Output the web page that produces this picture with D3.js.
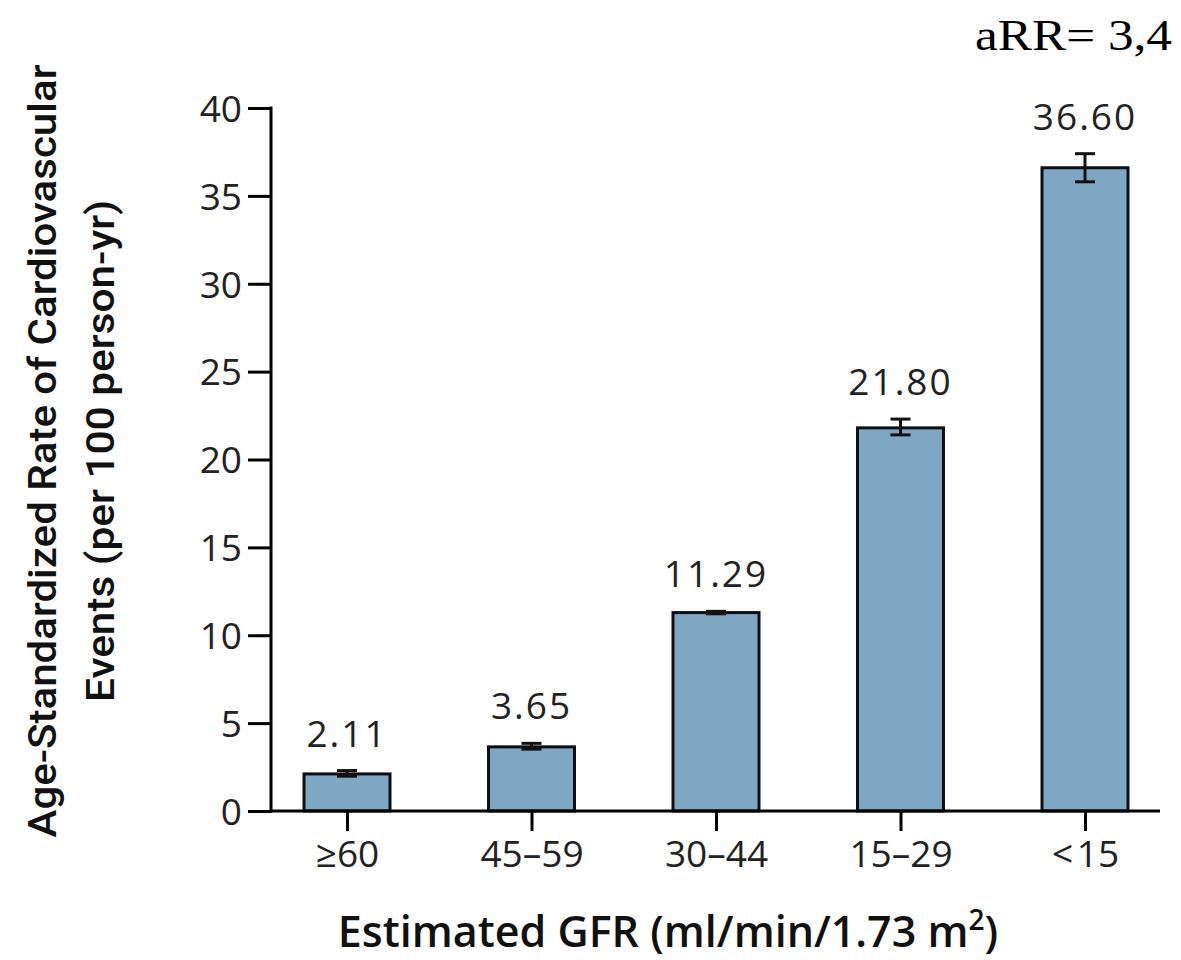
<!DOCTYPE html>
<html>
<head>
<meta charset="utf-8">
<script src="https://cdn.jsdelivr.net/npm/d3@7"></script>
<style>
  html, body { margin: 0; padding: 0; background: #fff; }
  svg { display: block; }
</style>
</head>
<body>
<div class="graph"></div>
<script>
// data
var categories = ["\u226560", "45\u201359", "30\u201344", "15\u201329", "<\u200a15"];
var rates = [2.11, 3.65, 11.29, 21.80, 36.60];
var errLow = [1.98, 3.52, 11.22, 21.40, 35.80];
var errHigh = [2.30, 3.85, 11.36, 22.30, 37.40];
var yTicks = [0, 5, 10, 15, 20, 25, 30, 35, 40];

var width = 1181, height = 960;
var svg = d3.select(".graph").append("svg")
    .attr("width", width)
    .attr("height", height);

var plot = { left: 271, right: 1160, top: 108, bottom: 811 };

// scales
var x = d3.scalePoint().domain(categories).range([347, 1085]);
var y = d3.scaleLinear().domain([0, 40]).range([plot.bottom, plot.top]);
var barW = 86;

var tickFont = "'Open Sans', 'DejaVu Sans', sans-serif";

// bars
svg.append("g").selectAll("rect")
  .data(rates)
  .enter().append("rect")
    .attr("x", function (d, i) { return x(categories[i]) - barW / 2; })
    .attr("y", function (d) { return y(d); })
    .attr("width", barW)
    .attr("height", function (d) { return y(0) - y(d); })
    .attr("fill", "#7ea7c3")
    .attr("stroke", "#0b0f14")
    .attr("stroke-width", 3);

// error bars
var err = svg.append("g").attr("stroke", "#111").attr("stroke-width", 3);
rates.forEach(function (d, i) {
  var cx = x(categories[i]);
  err.append("line").attr("x1", cx).attr("x2", cx).attr("y1", y(errLow[i])).attr("y2", y(errHigh[i]));
  err.append("line").attr("x1", cx - 10).attr("x2", cx + 10).attr("y1", y(errHigh[i])).attr("y2", y(errHigh[i]));
  err.append("line").attr("x1", cx - 10).attr("x2", cx + 10).attr("y1", y(errLow[i])).attr("y2", y(errLow[i]));
});

// value labels
svg.append("g").selectAll("text")
  .data(rates)
  .enter().append("text")
    .attr("x", function (d, i) { return x(categories[i]); })
    .attr("y", function (d, i) { return y(errHigh[i]) - 24; })
    .attr("text-anchor", "middle")
    .style("font-family", tickFont)
    .style("font-size", "37px")
    .style("letter-spacing", "2px")
    .attr("fill", "#222")
    .text(function (d) { return d3.format(".2f")(d); });

// y axis
var yAxis = svg.append("g")
    .attr("transform", "translate(" + plot.left + ",0)")
    .call(d3.axisLeft(y).tickValues(yTicks).tickSize(23).tickSizeOuter(0).tickPadding(6));
yAxis.select(".domain").remove();
yAxis.selectAll(".tick line").attr("stroke", "#000").attr("stroke-width", 3);
yAxis.selectAll(".tick text")
    .style("font-family", tickFont)
    .style("font-size", "37px")
    .attr("fill", "#222")
    .attr("dy", "0.36em");
svg.append("line")
    .attr("x1", plot.left).attr("x2", plot.left)
    .attr("y1", plot.top - 1.5).attr("y2", plot.bottom + 1.5)
    .attr("stroke", "#000").attr("stroke-width", 3);

// x axis
var xAxis = svg.append("g")
    .attr("transform", "translate(0," + plot.bottom + ")")
    .call(d3.axisBottom(x).tickSize(20).tickPadding(10));
xAxis.select(".domain").remove();
xAxis.selectAll(".tick line").attr("stroke", "#000").attr("stroke-width", 3);
xAxis.selectAll(".tick text")
    .style("font-family", tickFont)
    .style("font-size", "37px")
    .attr("fill", "#222");
svg.append("line")
    .attr("x1", plot.left - 1.5).attr("x2", plot.right)
    .attr("y1", plot.bottom).attr("y2", plot.bottom)
    .attr("stroke", "#000").attr("stroke-width", 3);

// x axis title
var xt = svg.append("text")
    .attr("x", 668)
    .attr("y", 947)
    .attr("text-anchor", "middle")
    .style("font-family", "'Open Sans', sans-serif")
    .style("font-weight", "600")
    .style("font-size", "43px")
    .attr("fill", "#111");
xt.append("tspan").text("Estimated GFR (ml/min/1.73 m");
xt.append("tspan").attr("dy", -17).style("font-size", "28px").text("2");
xt.append("tspan").attr("dy", 17).text(")");

// y axis title (two lines, rotated)
var yTitle = ["Age-Standardized Rate of Cardiovascular", "Events (per 100 person-yr)"];
var yTitleX = [56, 114];
var yTitleLen = [773, 502];
yTitle.forEach(function (t, i) {
  svg.append("text")
    .attr("transform", "translate(" + yTitleX[i] + ",451) rotate(-90)")
    .attr("text-anchor", "middle")
    .attr("textLength", yTitleLen[i])
    .attr("lengthAdjust", "spacingAndGlyphs")
    .style("font-family", "Roboto, 'Liberation Sans', sans-serif")
    .style("font-weight", "500")
    .style("font-size", "38px")
    .attr("fill", "#111")
    .text(t);
});

// annotation
svg.append("text")
    .attr("x", 1172)
    .attr("y", 50)
    .attr("text-anchor", "end")
    .attr("textLength", 197)
    .attr("lengthAdjust", "spacingAndGlyphs")
    .style("font-family", "'Liberation Serif', 'Times New Roman', serif")
    .style("font-size", "44px")
    .attr("fill", "#000")
    .text("aRR= 3,4");
</script>
</body>
</html>
